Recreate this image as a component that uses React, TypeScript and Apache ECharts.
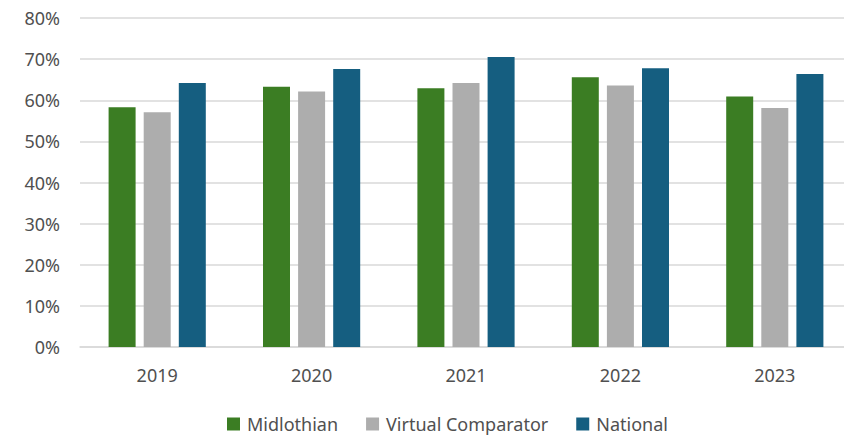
import React, { useEffect, useRef } from "react";
import * as echarts from "echarts";

const categories = ["2019", "2020", "2021", "2022", "2023"];
const midlothian = [58.3, 63.3, 62.9, 65.6, 60.9];
const virtualComparator = [57.1, 62.1, 64.2, 63.6, 58.1];
const national = [64.2, 67.6, 70.5, 67.8, 66.4];
const seriesNames = ["Midlothian", "Virtual Comparator", "National"];

const FONT = "'Noto Sans', Arial, sans-serif";
const TEXT = "#505050";
const GRID = "#d9d9d9";

export default function App() {
  const ref = useRef<HTMLDivElement>(null);
  useEffect(() => {
    if (!ref.current) return;
    const chart = echarts.init(ref.current, undefined, { renderer: "svg" });
    chart.setOption({
      animation: false,
      backgroundColor: "#ffffff",
      textStyle: { fontFamily: FONT },
      grid: { left: 80, right: 0, top: 18, bottom: 89, containLabel: false },
      legend: {
        data: seriesNames,
        left: 227,
        top: 415,
        padding: 0,
        itemWidth: 13,
        itemHeight: 13,
        itemGap: 28,
        icon: "rect",
        textStyle: { color: TEXT, fontSize: 18, fontFamily: FONT, padding: [0, 0, 0, 2] },
      },
      xAxis: {
        type: "category",
        data: categories,
        axisTick: { show: false },
        axisLine: { lineStyle: { color: GRID, width: 1.5 } },
        axisLabel: { color: TEXT, fontSize: 18, fontFamily: FONT, margin: 19 },
      },
      yAxis: {
        type: "value",
        min: 0,
        max: 80,
        interval: 10,
        axisLine: { show: false },
        axisTick: { show: false },
        splitLine: { lineStyle: { color: GRID, width: 1.5 } },
        axisLabel: { color: TEXT, fontSize: 18, fontFamily: FONT, margin: 20, formatter: "{value}%" },
      },
      series: [
        { name: seriesNames[0], type: "bar", data: midlothian, barWidth: 27, barGap: "30%", itemStyle: { color: "#3B7D23" } },
        { name: seriesNames[1], type: "bar", data: virtualComparator, barWidth: 27, barGap: "30%", itemStyle: { color: "#ADADAD" } },
        { name: seriesNames[2], type: "bar", data: national, barWidth: 27, barGap: "30%", itemStyle: { color: "#155E80" } },
      ],
    });
    return () => chart.dispose();
  }, []);
  return (
    <div style={{ position: "absolute", left: 0, top: 0, width: 844, height: 436, overflow: "hidden" }}>
      <div ref={ref} style={{ width: 852, height: 436 }} />
    </div>
  );
}
